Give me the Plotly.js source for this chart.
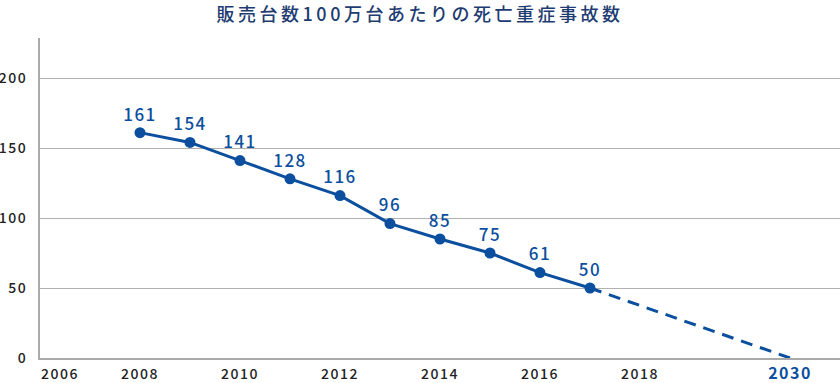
<!DOCTYPE html>
<html>
<head>
<meta charset="utf-8">
<script src="https://cdn.plot.ly/plotly-3.0.1.min.js"></script>
<style>
  body { margin: 0; background: #fff; }
  #chart { width: 840px; height: 383px; }
  .xtick text, .ytick text { letter-spacing: 1.5px; }
  .textpoint text { letter-spacing: 1.5px; }
  .gtitle { letter-spacing: 3.5px; }
</style>
</head>
<body>
<div id="chart"></div>
<script>
// ---- data ----
const titleText = '販売台数100万台あたりの死亡重症事故数';
const years = [2008, 2009, 2010, 2011, 2012, 2013, 2014, 2015, 2016, 2017];
const values = [161, 154, 141, 128, 116, 96, 85, 75, 61, 50];
const targetYear = 2030;
const targetValue = 0;
const xTickYears = [2006, 2008, 2010, 2012, 2014, 2016, 2018, 2030];
const yTickValues = [0, 50, 100, 150, 200];

// broken x axis: years after 2018 are compressed (2030 drawn 3 years after 2018)
const breakYear = 2018;
const compress = 4;
function axisPos(y) { return y > breakYear ? breakYear + (y - breakYear) / compress : y; }

const blue = '#0b4f9e';
const font = '"Noto Sans CJK JP", "Noto Sans", sans-serif';

const tickvals = xTickYears.map((y, i) => axisPos(y) + (i === 0 ? 0.4 : 0));
const ticktext = xTickYears.map(y => y === targetYear
  ? '<span style="font-size:16px;font-weight:bold;fill:' + blue + '">' + y + '</span>'
  : String(y));

const lastYear = years[years.length - 1];
const lastVal = values[values.length - 1];

const traces = [
  {
    x: [axisPos(lastYear), axisPos(targetYear)],
    y: [lastVal, targetValue],
    mode: 'lines',
    line: { color: blue, width: 3, dash: '12px,8px' },
    hoverinfo: 'skip'
  },
  {
    x: years.map(axisPos),
    y: values,
    mode: 'lines+markers+text',
    line: { color: blue, width: 3 },
    marker: { color: blue, size: 11 },
    text: values.map(String),
    textposition: 'top center',
    textfont: { family: font, size: 17, color: blue, weight: 500 }
  }
];

const layout = {
  width: 840,
  height: 383,
  margin: { l: 40, r: 0, t: 38, b: 25 },
  paper_bgcolor: '#fff',
  plot_bgcolor: '#fff',
  showlegend: false,
  font: { family: font, color: '#222' },
  title: {
    text: titleText,
    x: 0.5, xref: 'container', xanchor: 'center',
    y: 0.961, yref: 'container', yanchor: 'middle',
    font: { family: font, size: 18, color: '#1e3c72', weight: 500 }
  },
  xaxis: {
    range: [2006, 2022],
    showgrid: false,
    zeroline: false,
    showline: true,
    linecolor: '#aaaaaa',
    linewidth: 2,
    ticks: '',
    tickvals: tickvals,
    ticktext: ticktext,
    tickfont: { family: font, size: 14, color: '#222', weight: 500 },
    ticklabelstandoff: 2
  },
  yaxis: {
    range: [0, 228.6],
    tickvals: yTickValues,
    showgrid: true,
    gridcolor: '#b0b0b0',
    gridwidth: 1,
    zeroline: false,
    showline: true,
    linecolor: '#aaaaaa',
    linewidth: 2,
    ticks: '',
    tickfont: { family: font, size: 14, color: '#222', weight: 500 },
    ticklabelstandoff: 8
  }
};

Plotly.newPlot('chart', traces, layout, { displayModeBar: false, staticPlot: true });
</script>
</body>
</html>
